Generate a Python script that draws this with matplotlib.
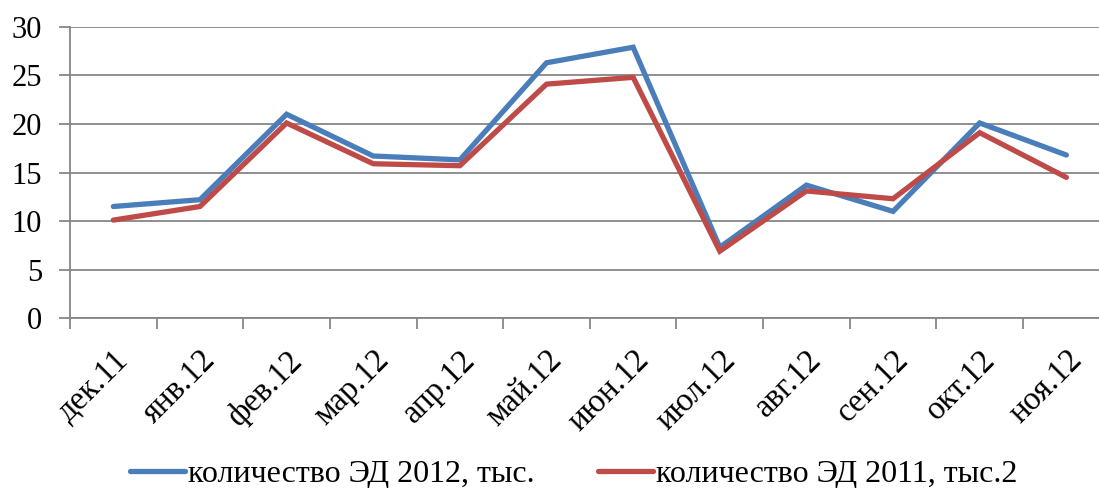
import numpy as np
import matplotlib
matplotlib.use("Agg")
import matplotlib.pyplot as plt

months = ["дек.11", "янв.12", "фев.12", "мар.12", "апр.12", "май.12",
          "июн.12", "июл.12", "авг.12", "сен.12", "окт.12", "ноя.12"]
ed_2012 = [11.5, 12.2, 21.0, 16.7, 16.3, 26.3, 27.9, 7.3, 13.7, 11.0, 20.1, 16.8]
ed_2011 = [10.1, 11.5, 20.1, 15.9, 15.7, 24.1, 24.8, 6.9, 13.1, 12.3, 19.1, 14.5]

plt.rcParams['font.family'] = ['Liberation Serif', 'DejaVu Serif']

fig = plt.figure(figsize=(10.99, 4.88), dpi=100)
ax = fig.add_axes([0.0637, 0.348, 0.946, 0.597])

x = np.arange(len(months))
ax.plot(x, ed_2012, color='#4A7EBB', lw=3.8, solid_joinstyle='miter',
        solid_capstyle='round', label='количество ЭД 2012, тыс.')
ax.plot(x, ed_2011, color='#BE4B48', lw=3.8, solid_joinstyle='miter',
        solid_capstyle='round', label='количество ЭД 2011, тыс.2')

ax.set_xlim(-0.5, len(months) - 0.5)
ax.set_ylim(0, 30)
ax.set_yticks(range(0, 31, 5))
ax.grid(axis='y', color='#868686', lw=1.3)
ax.set_axisbelow(True)

for s in ['top', 'right']:
    ax.spines[s].set_visible(False)
ax.spines['left'].set_color('#868686')
ax.spines['bottom'].set_color('#868686')
ax.spines['left'].set_linewidth(1.3)
ax.spines['bottom'].set_linewidth(1.3)

# category boundaries get the tick marks, centres get the labels
ax.set_xticks(np.arange(-0.5, len(months), 1.0))
ax.set_xticklabels([])
ax.set_xticks(x, minor=True)
ax.set_xticklabels(months, minor=True, rotation=45, ha='right', va='top',
                   rotation_mode='anchor', fontsize=23.5)
ax.tick_params(axis='x', which='major', length=8, color='#868686', width=1.3)
ax.tick_params(axis='x', which='minor', length=0, pad=19)
ax.tick_params(axis='y', length=8, color='#868686', width=1.3, labelsize=22, pad=12)

leg = fig.legend(loc='center', bbox_to_anchor=(0.522, 0.028), ncol=2,
                 frameon=False, fontsize=23, handlelength=1.7, handletextpad=0.1,
                 columnspacing=2.0)

fig.savefig('out.png', dpi=100)
